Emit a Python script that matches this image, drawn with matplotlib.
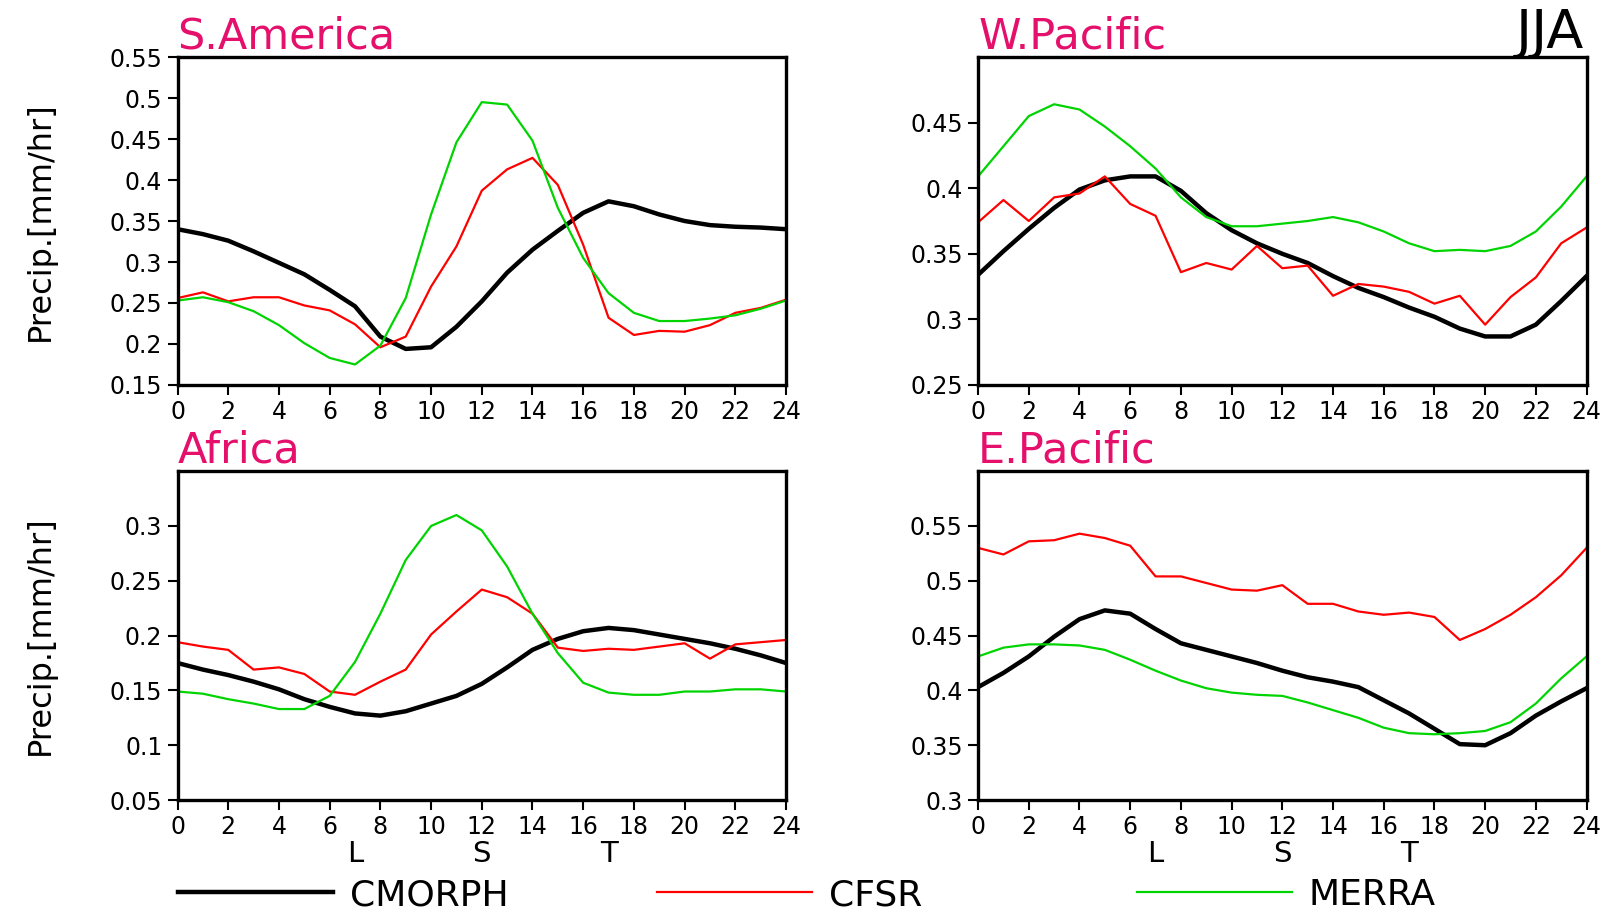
import numpy as np
import matplotlib
import matplotlib.pyplot as plt

matplotlib.use('Agg')

hours = np.arange(25)

# S.America
sam_cmorph = [0.340, 0.334, 0.326, 0.313, 0.299, 0.285, 0.266, 0.246, 0.209, 0.194, 0.196, 0.221, 0.252,
              0.287, 0.315, 0.338, 0.360, 0.374, 0.368, 0.358, 0.350, 0.345, 0.343, 0.342, 0.340]
sam_cfsr = [0.256, 0.263, 0.252, 0.257, 0.257, 0.247, 0.241, 0.224, 0.196, 0.209, 0.270, 0.319, 0.387,
            0.413, 0.427, 0.394, 0.321, 0.232, 0.211, 0.216, 0.215, 0.223, 0.238, 0.244, 0.254]
sam_merra = [0.253, 0.257, 0.251, 0.240, 0.223, 0.201, 0.183, 0.175, 0.198, 0.256, 0.358, 0.446, 0.495,
             0.492, 0.448, 0.366, 0.305, 0.262, 0.238, 0.228, 0.228, 0.231, 0.235, 0.243, 0.253]

# W.Pacific
wpa_cmorph = [0.334, 0.352, 0.369, 0.385, 0.399, 0.406, 0.409, 0.409, 0.398, 0.381, 0.368, 0.358, 0.350,
              0.343, 0.333, 0.324, 0.317, 0.309, 0.302, 0.293, 0.287, 0.287, 0.296, 0.314, 0.333]
wpa_cfsr = [0.374, 0.391, 0.375, 0.393, 0.396, 0.409, 0.388, 0.379, 0.336, 0.343, 0.338, 0.356, 0.339,
            0.341, 0.318, 0.327, 0.325, 0.321, 0.312, 0.318, 0.296, 0.317, 0.332, 0.358, 0.370]
wpa_merra = [0.409, 0.432, 0.455, 0.464, 0.460, 0.447, 0.432, 0.415, 0.393, 0.378, 0.371, 0.371, 0.373,
             0.375, 0.378, 0.374, 0.367, 0.358, 0.352, 0.353, 0.352, 0.356, 0.367, 0.386, 0.409]

# Africa
afr_cmorph = [0.175, 0.169, 0.164, 0.158, 0.151, 0.142, 0.135, 0.129, 0.127, 0.131, 0.138, 0.145, 0.156,
              0.171, 0.187, 0.197, 0.204, 0.207, 0.205, 0.201, 0.197, 0.193, 0.188, 0.182, 0.175]
afr_cfsr = [0.194, 0.190, 0.187, 0.169, 0.171, 0.165, 0.149, 0.146, 0.158, 0.169, 0.201, 0.222, 0.242,
            0.235, 0.220, 0.189, 0.186, 0.188, 0.187, 0.190, 0.193, 0.179, 0.192, 0.194, 0.196]
afr_merra = [0.149, 0.147, 0.142, 0.138, 0.133, 0.133, 0.145, 0.176, 0.220, 0.269, 0.300, 0.310, 0.296,
             0.263, 0.220, 0.184, 0.157, 0.148, 0.146, 0.146, 0.149, 0.149, 0.151, 0.151, 0.149]

# E.Pacific
epa_cmorph = [0.403, 0.416, 0.431, 0.449, 0.465, 0.473, 0.470, 0.456, 0.443, 0.437, 0.431, 0.425, 0.418,
              0.412, 0.408, 0.403, 0.391, 0.379, 0.365, 0.351, 0.350, 0.361, 0.377, 0.390, 0.402]
epa_cfsr = [0.530, 0.524, 0.536, 0.537, 0.543, 0.539, 0.532, 0.504, 0.504, 0.498, 0.492, 0.491, 0.496,
            0.479, 0.479, 0.472, 0.469, 0.471, 0.467, 0.446, 0.456, 0.469, 0.485, 0.505, 0.530]
epa_merra = [0.431, 0.439, 0.442, 0.442, 0.441, 0.437, 0.428, 0.418, 0.409, 0.402, 0.398, 0.396, 0.395,
             0.389, 0.382, 0.375, 0.366, 0.361, 0.360, 0.361, 0.363, 0.371, 0.388, 0.411, 0.431]

regions = ['S.America', 'W.Pacific', 'Africa', 'E.Pacific']
ylims = [(0.15, 0.55), (0.25, 0.5), (0.05, 0.35), (0.3, 0.6)]
yticks = [np.arange(0.15, 0.551, 0.05), np.arange(0.25, 0.451, 0.05),
          np.arange(0.05, 0.301, 0.05), np.arange(0.3, 0.551, 0.05)]
ytick_labels = [['0.15', '0.2', '0.25', '0.3', '0.35', '0.4', '0.45', '0.5', '0.55'],
                ['0.25', '0.3', '0.35', '0.4', '0.45'],
                ['0.05', '0.1', '0.15', '0.2', '0.25', '0.3'],
                ['0.3', '0.35', '0.4', '0.45', '0.5', '0.55']]
data = [(sam_cmorph, sam_cfsr, sam_merra), (wpa_cmorph, wpa_cfsr, wpa_merra),
        (afr_cmorph, afr_cfsr, afr_merra), (epa_cmorph, epa_cfsr, epa_merra)]
names = ['CMORPH', 'CFSR', 'MERRA']
colors = ['black', '#ff0000', '#00d400']
widths = [3.2, 1.6, 1.6]

title_color = '#e5106c'

fig = plt.figure(figsize=(16.14, 9.11), dpi=100)
rects = [[0.110, 0.5774, 0.377, 0.360], [0.606, 0.5774, 0.377, 0.360],
         [0.110, 0.1218, 0.377, 0.361], [0.606, 0.1218, 0.377, 0.361]]

handles = []
for k in range(4):
    ax = fig.add_axes(rects[k])
    for j in range(3):
        ln, = ax.plot(hours, data[k][j], color=colors[j], linewidth=widths[j])
        if k == 0:
            handles.append(ln)
    ax.set_xlim(0, 24)
    ax.set_ylim(ylims[k])
    ax.set_xticks(np.arange(0, 25, 2))
    ax.set_yticks(yticks[k])
    ax.set_yticklabels(ytick_labels[k])
    ax.tick_params(direction='out', length=7, width=1.5, labelsize=17, pad=4)
    for s in ax.spines.values():
        s.set_linewidth(2.4)
    ax.text(0.0, 1.027, regions[k], transform=ax.transAxes, ha='left', va='baseline',
            fontsize=31, color=title_color)
    if k % 2 == 0:
        ax.set_ylabel('Precip.[mm/hr]', fontsize=23)
        ax.yaxis.set_label_coords(-0.2, 0.5)
    if k >= 2:
        for lab, xf in zip(['L', 'S', 'T'], [7 / 24, 12 / 24, 17 / 24]):
            ax.text(xf, -0.165, lab, transform=ax.transAxes, ha='center', va='center', fontsize=21)
    if k == 1:
        ax.text(0.995, 1.027, 'JJA', transform=ax.transAxes, ha='right', va='baseline',
                fontsize=39, color='black')

# legend: one entry per slot along the bottom
leg_x = [178 / 1614, 657 / 1614, 1137 / 1614]
for j in range(3):
    fig.legend([handles[j]], [names[j]], loc='center left', bbox_to_anchor=(leg_x[j], 1 - 895 / 911),
               frameon=False, fontsize=26, handlelength=4.3, handletextpad=0.45, borderpad=0,
               borderaxespad=0)

plt.savefig('out.png', dpi=100)
